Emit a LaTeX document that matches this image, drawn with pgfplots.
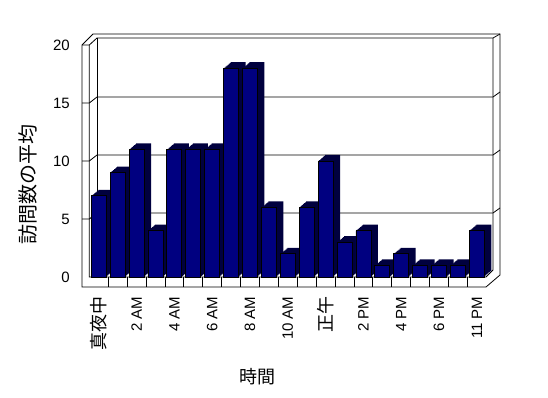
\documentclass[border=0pt]{standalone}
\usepackage{fontspec}
\setmainfont{Liberation Sans}
\newfontfamily\jp{Noto Sans CJK JP}
\usepackage{pgfplots}
\usepackage{pgfplotstable}
\pgfplotsset{compat=1.18}
\definecolor{barnavy}{RGB}{0,0,128}
\definecolor{bardark}{RGB}{0,0,62}
\pgfplotstableread{
x y
0 7
1 9
2 11
3 4
4 11
5 11
6 11
7 18
8 18
9 6
10 2
11 6
12 10
13 3
14 4
15 1
16 2
17 1
18 1
19 1
20 4
}\visits
\begin{document}
\begin{tikzpicture}
\path[use as bounding box] (0,0) rectangle (548pt,398pt);
% 3D frame (walls and floor), drawn in pixel coordinates of the image
\begin{scope}[x=1pt,y=-1pt,shift={(0pt,398pt)},line width=0.8pt]
\draw (82,287) -- (82,45) -- (93,34) -- (500,34) -- (500,275) -- (486,287) -- cycle;
\draw (82,45) -- (89.3,45) -- (97,38) -- (493,38) -- (500,34);
\draw (89.3,45) -- (89.3,277) -- (486,277) -- (493,270) -- (493,38);
\draw (97,38) -- (97,270);
\foreach \v in {5,10,15} {
  \draw (82,{277-11.6*\v}) -- (89.3,{277-11.6*\v}) -- (97,{271-11.6*\v}) -- (493,{271-11.6*\v}) -- (500,{266-11.6*\v});
}
\end{scope}
\begin{axis}[
  scale only axis,
  width=397pt, height=232pt,
  at={(89.3pt,121pt)}, anchor=south west,
  xmin=-0.5, xmax=20.5, ymin=0, ymax=20,
  clip=false,
  axis line style={draw=none},
  tick style={draw=none},
  xtick pos=bottom, ytick pos=left,
  ytick={0,5,10,15,20},
  xtick={0,2,...,20},
  xticklabels={{\jp\fontsize{18}{20}\selectfont 真夜中},2 AM,4 AM,6 AM,8 AM,10 AM,{\jp\fontsize{18}{20}\selectfont 正午},2 PM,4 PM,6 PM,11 PM},
  xticklabel style={rotate=90, anchor=east},
  xticklabel shift=16pt,
  yticklabel shift=16pt,
  extra x ticks={0.5,1.5,...,19.5},
  extra x tick labels={},
  extra x tick style={major tick length=10pt, tick align=outside, tick style={draw=black, line width=0.8pt}},
  tick label style={font=\fontsize{15}{18}\selectfont},
  /pgf/number format/assume math mode=true,
  xlabel={時間},
  ylabel={訪問数の平均},
  every axis x label/.style={at={(rel axis cs:0.5,0)}, xshift=-30pt, yshift=-100pt, anchor=center, font=\jp\fontsize{18}{20}\selectfont},
  every axis y label/.style={at={(rel axis cs:0,0.5)}, xshift=-61pt, yshift=-24pt, rotate=90, anchor=center, font=\jp\fontsize{20}{22}\selectfont},
]
\pgfplotsinvokeforeach{1,...,7}{
  \addplot[ybar, bar width=15pt, bar shift=0pt, fill=bardark, draw=none, xshift=#1 pt, yshift=0.857*#1 pt] table[x=x,y=y] {\visits};
}
\addplot[ybar, bar width=15pt, bar shift=0pt, fill=barnavy, draw=black, line width=0.8pt] table[x=x,y=y] {\visits};
\end{axis}
\end{tikzpicture}
\end{document}
